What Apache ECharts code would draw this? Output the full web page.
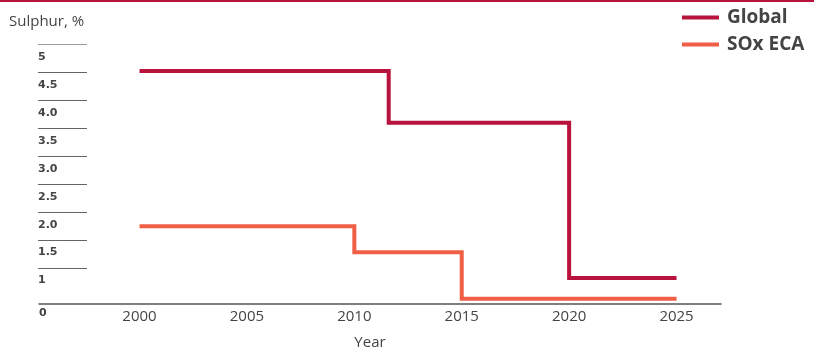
<!DOCTYPE html>
<html>
<head>
<meta charset="utf-8">
<script src="https://cdn.jsdelivr.net/npm/echarts@6/dist/echarts.min.js"></script>
<style>
  html, body { margin: 0; padding: 0; background: #fff; }
  #chart { width: 814px; height: 352px; }
</style>
</head>
<body>
<div id="chart"></div>
<script>
// sulphur limits, step changes
const globalYears = [2000, 2011.6, 2020, 2025]
const globalSulphur = [4.5, 3.5, 0.5, 0.5]
const ecaYears = [2000, 2010, 2015, 2025]
const ecaSulphur = [1.5, 1.0, 0.1, 0.1]
// the printed scale on the left (does not line up with the data scale)
const scaleLabels = ['1', '1.5', '2.0', '2.5', '3.0', '3.5', '4.0', '4.5', '5']
const seriesNames = ['Global', 'SOx ECA']

const RED = '#b8133c'
const CORAL = '#ef5f45'
const TEXT = '#444'

const chart = echarts.init(document.getElementById('chart'))

chart.setOption({
  backgroundColor: '#fff',
  animation: false,
  title: {
    text: 'Sulphur, %',
    left: 4,
    top: 9,
    textStyle: { fontFamily: 'Open Sans', fontSize: 15, fontWeight: 'normal', color: TEXT }
  },
  legend: {
    data: seriesNames,
    orient: 'vertical',
    left: 677,
    top: 3,
    icon: 'rect',
    itemWidth: 37,
    itemHeight: 4,
    itemGap: 8,
    textStyle: {
      fontFamily: 'Open Sans',
      fontSize: 19,
      fontWeight: 'bold',
      color: TEXT,
      lineHeight: 19,
      padding: [0, 0, 0, 3]
    }
  },
  graphic: [{
    type: 'rect',
    shape: { x: 0, y: 0, width: 814, height: 2 },
    style: { fill: RED },
    silent: true
  }],
  grid: [
    { left: 39, right: 93, top: 45, bottom: 48, outerBoundsMode: 'none' },
    // the short ruler lines with labels
    { left: 38, width: 49, top: 44.7, height: 223.3, outerBoundsMode: 'none' }
  ],
  xAxis: [{
    gridIndex: 0,
    type: 'value',
    min: 1995.32,
    max: 2027.07,
    splitNumber: 6,
    name: 'Year',
    nameLocation: 'middle',
    nameGap: 31,
    nameTextStyle: {
      fontFamily: 'Open Sans', fontSize: 15, color: TEXT, padding: [0, 20, 0, 0]
    },
    axisLine: { lineStyle: { color: '#555', width: 1.5 } },
    axisTick: { show: false },
    splitLine: { show: false },
    axisLabel: {
      margin: 5,
      fontFamily: 'Open Sans',
      fontSize: 15,
      color: TEXT,
      showMinLabel: false,
      showMaxLabel: false,
      formatter: v => (v % 5 === 0 ? String(v) : '')
    }
  }, {
    gridIndex: 1,
    type: 'value',
    show: false
  }],
  yAxis: [{
    gridIndex: 0,
    type: 'value',
    min: 0,
    max: 5,
    interval: 5,
    axisLine: { show: false },
    axisTick: { show: false },
    splitLine: { show: false },
    axisLabel: {
      inside: true,
      margin: 0,
      align: 'left',
      verticalAlign: 'top',
      padding: [4, 0, 0, 0],
      fontFamily: 'DejaVu Sans',
      fontSize: 11,
      fontWeight: 'bold',
      color: TEXT,
      formatter: v => (v === 0 ? '0' : '')
    }
  }, {
    gridIndex: 1,
    type: 'value',
    min: 1,
    max: 5,
    interval: 0.5,
    axisLine: { show: false },
    axisTick: { show: false },
    splitLine: {
      show: true,
      lineStyle: {
        color: ['#666', '#666', '#666', '#666', '#666', '#666', '#666', '#666', '#9a9a9a'],
        width: 1.2
      }
    },
    axisLabel: {
      inside: true,
      margin: 0,
      align: 'left',
      verticalAlign: 'top',
      padding: [7, 0, 0, 0],
      fontFamily: 'DejaVu Sans',
      fontSize: 11,
      fontWeight: 'bold',
      color: TEXT,
      formatter: (v, i) => scaleLabels[i]
    }
  }],
  series: [{
    name: seriesNames[0],
    type: 'line',
    step: 'end',
    symbol: 'none',
    xAxisIndex: 0,
    yAxisIndex: 0,
    color: RED,
    lineStyle: { color: RED, width: 4, join: 'miter', cap: 'butt' },
    data: globalYears.map((y, i) => [y, globalSulphur[i]])
  }, {
    name: seriesNames[1],
    type: 'line',
    step: 'end',
    symbol: 'none',
    xAxisIndex: 0,
    yAxisIndex: 0,
    color: CORAL,
    lineStyle: { color: CORAL, width: 4, join: 'miter', cap: 'butt' },
    data: ecaYears.map((y, i) => [y, ecaSulphur[i]])
  }]
})
</script>
</body>
</html>
